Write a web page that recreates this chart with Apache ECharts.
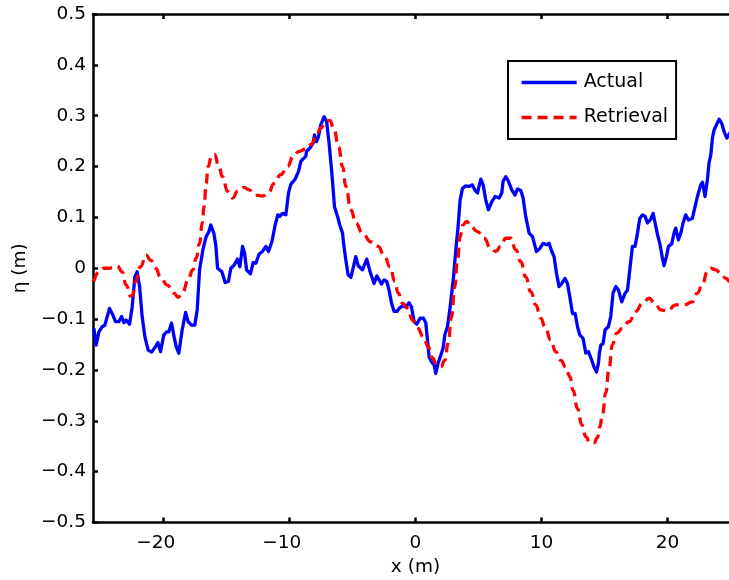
<!DOCTYPE html>
<html>
<head>
<meta charset="utf-8">
<script src="https://cdn.jsdelivr.net/npm/echarts@6/dist/echarts.min.js"></script>
<style>
  html, body { margin: 0; padding: 0; background: #fff; }
  #chart { width: 729px; height: 580px; }
</style>
</head>
<body>
<div id="chart"></div>
<script>
// Surface elevation profiles: measured ("Actual") and reconstructed ("Retrieval")
const actualX = [
  -25.53, -25.35, -25.13, -24.87, -24.66, -24.29, -24.02, -23.81, -23.55, -23.33,
  -23.15, -22.97, -22.70, -22.49, -22.28, -22.10, -21.90, -21.70, -21.48, -21.22,
  -20.95, -20.63, -20.45, -20.24, -19.98, -19.76, -19.58, -19.37, -19.16, -19.00,
  -18.79, -18.52, -18.25, -18.05, -17.78, -17.52, -17.33, -17.14, -16.88, -16.62,
  -16.40, -16.25, -16.01, -15.85, -15.71, -15.59, -15.37, -15.11, -14.85, -14.66,
  -14.40, -14.13, -13.94, -13.73, -13.57, -13.41, -13.10, -12.89, -12.67, -12.41,
  -12.14, -11.88, -11.67, -11.40, -11.14, -10.93, -10.77, -10.56, -10.29, -10.08,
  -9.90, -9.56, -9.29, -9.10, -8.92, -8.71, -8.65, -8.39, -8.13, -8.02,
  -7.86, -7.70, -7.52, -7.25, -7.06, -6.86, -6.64, -6.43, -6.19, -6.01,
  -5.79, -5.71, -5.53, -5.35, -5.13, -4.92, -4.74, -4.55, -4.40, -4.21,
  -4.08, -3.87, -3.60, -3.47, -3.29, -3.07, -2.89, -2.70, -2.49, -2.28,
  -2.10, -1.90, -1.70, -1.48, -1.30, -1.03, -0.77, -0.51, -0.32, -0.11,
  0.10, 0.37, 0.63, 0.82, 0.95, 1.08, 1.27, 1.48, 1.61, 1.79,
  2.01, 2.19, 2.33, 2.54, 2.75, 3.02, 3.20, 3.38, 3.54, 3.73,
  3.99, 4.25, 4.52, 4.73, 4.92, 5.18, 5.37, 5.58, 5.79, 6.06,
  6.32, 6.64, 6.85, 6.95, 7.17, 7.38, 7.64, 7.90, 8.10, 8.36,
  8.54, 8.75, 9.02, 9.29, 9.60, 9.87, 10.13, 10.40, 10.60, 10.82,
  11.00, 11.19, 11.40, 11.61, 11.87, 12.06, 12.25, 12.46, 12.67, 12.86,
  13.04, 13.30, 13.52, 13.73, 13.99, 14.17, 14.37, 14.52, 14.60, 14.71,
  14.89, 15.05, 15.31, 15.50, 15.68, 15.90, 16.11, 16.37, 16.64, 16.83,
  17.01, 17.22, 17.43, 17.62, 17.80, 18.02, 18.23, 18.41, 18.67, 18.86,
  19.02, 19.21, 19.39, 19.60, 19.73, 19.92, 20.08, 20.34, 20.52, 20.66,
  20.87, 21.06, 21.24, 21.45, 21.67, 21.98, 22.19, 22.38, 22.64, 22.78,
  22.98, 23.17, 23.30, 23.44, 23.57, 23.70, 23.89, 24.10, 24.31, 24.49,
  24.71, 24.95, 25.50
];
const actualY = [
  -0.118, -0.151, -0.125, -0.115, -0.112, -0.079, -0.092, -0.105, -0.105, -0.095,
  -0.107, -0.102, -0.110, -0.076, -0.017, -0.007, -0.036, -0.095, -0.135, -0.161,
  -0.165, -0.154, -0.146, -0.164, -0.131, -0.125, -0.125, -0.108, -0.135, -0.154,
  -0.167, -0.121, -0.087, -0.105, -0.112, -0.112, -0.082, -0.003, 0.036, 0.062,
  0.072, 0.085, 0.069, 0.045, 0.000, -0.003, -0.007, -0.028, -0.026, 0.000,
  0.006, 0.018, 0.003, 0.043, 0.030, -0.003, -0.011, 0.011, 0.010, 0.028,
  0.033, 0.043, 0.033, 0.052, 0.085, 0.105, 0.102, 0.108, 0.105, 0.148,
  0.165, 0.175, 0.190, 0.210, 0.215, 0.220, 0.230, 0.236, 0.246, 0.262,
  0.249, 0.259, 0.282, 0.298, 0.289, 0.246, 0.187, 0.121, 0.102, 0.085,
  0.069, 0.049, 0.016, -0.013, -0.018, 0.003, 0.023, 0.005, 0.006, -0.003,
  0.000, 0.018, -0.007, -0.010, -0.030, -0.015, -0.023, -0.031, -0.023, -0.026,
  -0.043, -0.069, -0.085, -0.085, -0.079, -0.074, -0.076, -0.068, -0.076, -0.105,
  -0.110, -0.098, -0.098, -0.108, -0.141, -0.174, -0.184, -0.190, -0.207, -0.187,
  -0.171, -0.157, -0.131, -0.115, -0.076, -0.017, 0.036, 0.082, 0.134, 0.157,
  0.162, 0.161, 0.164, 0.153, 0.148, 0.175, 0.164, 0.134, 0.115, 0.131,
  0.141, 0.138, 0.148, 0.171, 0.180, 0.171, 0.154, 0.144, 0.156, 0.153,
  0.138, 0.102, 0.069, 0.062, 0.033, 0.039, 0.049, 0.046, 0.049, 0.033,
  0.023, -0.010, -0.036, -0.030, -0.020, -0.030, -0.056, -0.089, -0.089, -0.115,
  -0.131, -0.138, -0.167, -0.164, -0.181, -0.194, -0.204, -0.187, -0.167, -0.151,
  -0.148, -0.121, -0.115, -0.095, -0.049, -0.036, -0.043, -0.066, -0.049, -0.043,
  -0.003, 0.043, 0.043, 0.069, 0.098, 0.105, 0.102, 0.089, 0.096, 0.108,
  0.089, 0.066, 0.049, 0.020, 0.005, 0.023, 0.043, 0.048, 0.069, 0.079,
  0.056, 0.069, 0.089, 0.105, 0.095, 0.098, 0.121, 0.141, 0.164, 0.169,
  0.141, 0.174, 0.207, 0.223, 0.256, 0.272, 0.282, 0.293, 0.285, 0.269,
  0.256, 0.266, 0.270
];

const retrievalX = [
  -25.53, -25.13, -24.74, -24.34, -23.94, -23.68, -23.29, -22.97, -22.62, -22.46,
  -22.23, -21.83, -21.38, -21.03, -20.63, -20.24, -19.71, -19.18, -18.84, -18.47,
  -18.05, -17.68, -17.41, -17.14, -16.93, -16.78, -16.62, -16.46, -16.19, -15.95,
  -15.61, -15.32, -14.92, -14.52, -14.13, -13.60, -13.21, -12.68, -12.14, -11.67,
  -11.22, -10.69, -10.16, -9.71, -9.24, -8.76, -8.31, -7.91, -7.52, -7.12,
  -6.80, -6.46, -6.11, -5.79, -5.53, -5.13, -4.74, -4.21, -3.55, -2.97,
  -2.49, -2.02, -1.64, -1.38, -1.03, -0.63, -0.24, 0.16, 0.63, 1.00,
  1.35, 1.69, 2.01, 2.33, 2.59, 2.86, 3.12, 3.33, 3.54, 3.75,
  4.07, 4.39, 4.92, 5.44, 5.98, 6.37, 6.77, 7.17, 7.56, 7.96,
  8.36, 8.75, 9.15, 9.55, 9.94, 10.34, 10.74, 11.13, 11.53, 11.93,
  12.25, 12.51, 12.86, 13.20, 13.52, 13.83, 14.17, 14.44, 14.63, 14.84,
  15.10, 15.37, 15.63, 15.95, 16.43, 16.95, 17.48, 18.02, 18.54, 19.02,
  19.47, 20.00, 20.66, 21.32, 21.98, 22.38, 22.78, 23.17, 23.44, 23.83,
  24.23, 24.63, 24.95, 25.50
];
const retrievalY = [
  -0.026, -0.007, 0.000, 0.000, 0.002, 0.005, -0.007, -0.033, -0.055, -0.053,
  -0.026, 0.003, 0.026, 0.016, 0.000, -0.017, -0.033, -0.049, -0.057, -0.046,
  -0.023, -0.003, 0.020, 0.049, 0.089, 0.121, 0.167, 0.200, 0.221, 0.224,
  0.200, 0.180, 0.151, 0.138, 0.151, 0.159, 0.154, 0.144, 0.142, 0.149,
  0.167, 0.184, 0.200, 0.220, 0.230, 0.234, 0.243, 0.256, 0.276, 0.289,
  0.291, 0.272, 0.239, 0.200, 0.161, 0.115, 0.089, 0.069, 0.052, 0.043,
  0.026, 0.003, -0.026, -0.049, -0.069, -0.079, -0.102, -0.118, -0.135, -0.154,
  -0.177, -0.190, -0.194, -0.181, -0.148, -0.095, -0.036, 0.016, 0.062, 0.085,
  0.092, 0.082, 0.072, 0.059, 0.039, 0.033, 0.043, 0.059, 0.059, 0.036,
  0.013, -0.017, -0.046, -0.072, -0.098, -0.121, -0.141, -0.164, -0.181, -0.194,
  -0.213, -0.240, -0.276, -0.308, -0.331, -0.343, -0.343, -0.333, -0.312, -0.288,
  -0.245, -0.196, -0.150, -0.128, -0.118, -0.105, -0.085, -0.069, -0.059, -0.069,
  -0.082, -0.084, -0.072, -0.072, -0.066, -0.049, -0.030, -0.007, 0.000, -0.003,
  -0.010, -0.020, -0.026, -0.036
];

const xTicks = [-20, -10, 0, 10, 20];
const xRange = [-25.6, 25.6];
const yRange = [-0.5, 0.5];
const yStep = 0.1;

const FONT = 'DejaVu Sans';
const MINUS = '\u2212';

function pairs(xs, ys) { return xs.map((x, i) => [x, ys[i]]); }

function fmtY(v) {
  const r = Math.round(v * 10) / 10;
  if (r === 0) return '0';
  return r < 0 ? MINUS + (-r) : String(r);
}
// negative x labels: digits stay centred on the tick, minus hangs to the left
function fmtX(v) {
  if (v < 0) return MINUS + (-v) + '{h|' + MINUS + '}';
  return String(v);
}

const axisLine = { show: true, onZero: false, lineStyle: { color: '#000', width: 2.5 } };
const tickStyle = { show: true, inside: true, length: 5, lineStyle: { color: '#000', width: 2.5 } };
const labelText = { color: '#000', fontSize: 18.5, fontFamily: FONT };

const chart = echarts.init(document.getElementById('chart'), null, { renderer: 'canvas' });
chart.setOption({
  animation: false,
  backgroundColor: '#fff',
  grid: {
    left: 93, top: 14, width: 645, height: 508.5,
    containLabel: false, outerBoundsMode: 'none'
  },
  legend: {
    orient: 'vertical',
    left: 508, top: 61,
    padding: [12, 8, 12, 12],
    itemGap: 16,
    itemWidth: 55,
    itemHeight: 18,
    backgroundColor: '#fff',
    borderColor: '#000',
    borderWidth: 2,
    borderRadius: 0,
    itemStyle: { color: 'rgba(0,0,0,0)', borderWidth: 0, opacity: 0 },
    lineStyle: { width: 3.3 },
    textStyle: { color: '#000', fontSize: 19, fontFamily: FONT, padding: [0, 0, 0, 2] },
    data: ['Actual', 'Retrieval']
  },
  xAxis: [
    {
      type: 'value', position: 'bottom',
      min: xRange[0], max: xRange[1],
      axisLine: axisLine,
      axisTick: Object.assign({ customValues: xTicks }, tickStyle),
      axisLabel: Object.assign({
        customValues: xTicks, margin: 11, formatter: fmtX,
        rich: { h: { color: 'rgba(0,0,0,0)', fontSize: 18.5, fontFamily: FONT } }
      }, labelText),
      splitLine: { show: false },
      name: 'x (m)', nameLocation: 'middle', nameGap: 35,
      nameTextStyle: labelText
    },
    {
      type: 'value', position: 'top',
      min: xRange[0], max: xRange[1],
      axisLine: axisLine,
      axisTick: Object.assign({ customValues: xTicks }, tickStyle),
      axisLabel: { show: false },
      splitLine: { show: false }
    }
  ],
  yAxis: [
    {
      type: 'value', position: 'left',
      min: yRange[0], max: yRange[1], interval: yStep,
      axisLine: axisLine,
      axisTick: tickStyle,
      axisLabel: Object.assign({ margin: 7, formatter: fmtY, showMinLabel: true, showMaxLabel: true }, labelText),
      splitLine: { show: false },
      name: '\u03b7 (m)', nameLocation: 'middle', nameRotate: 90, nameGap: 60,
      nameTextStyle: labelText
    },
    {
      type: 'value', position: 'right',
      min: yRange[0], max: yRange[1], interval: yStep,
      axisLine: axisLine,
      axisTick: tickStyle,
      axisLabel: { show: false },
      splitLine: { show: false }
    }
  ],
  series: [
    {
      name: 'Actual', type: 'line',
      data: pairs(actualX, actualY),
      symbol: 'none', showSymbol: false, smooth: false,
      lineStyle: { color: '#0000ff', width: 3.3, join: 'round' },
      itemStyle: { color: '#0000ff' }
    },
    {
      name: 'Retrieval', type: 'line',
      data: pairs(retrievalX, retrievalY),
      symbol: 'none', showSymbol: false, smooth: true, smoothMonotone: 'x',
      lineStyle: { color: '#ff0000', width: 3.3, type: [10, 6] },
      itemStyle: { color: '#ff0000' }
    }
  ]
});
</script>
</body>
</html>
